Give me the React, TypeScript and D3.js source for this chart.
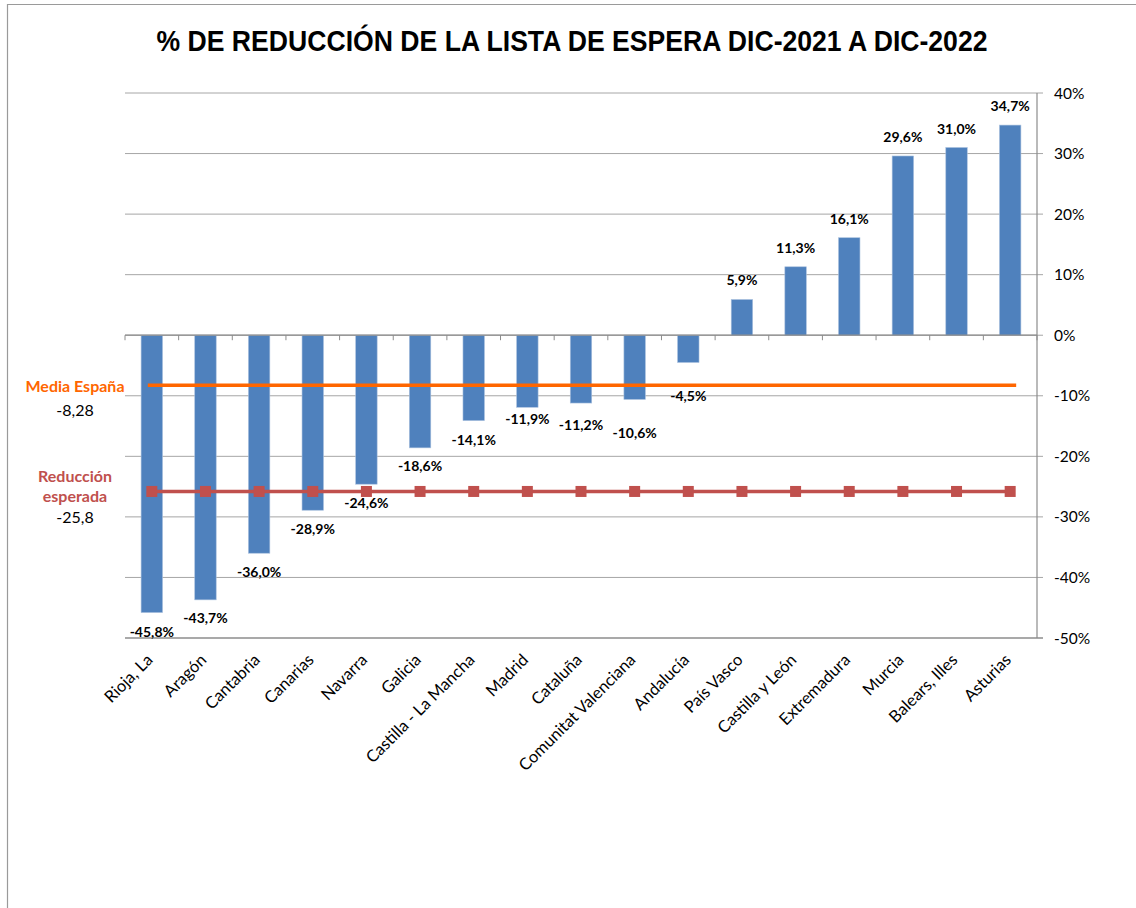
import React from "react";
import * as d3 from "d3";

const categories = [
  "Rioja, La", "Aragón", "Cantabria", "Canarias", "Navarra", "Galicia",
  "Castilla - La Mancha", "Madrid", "Cataluña", "Comunitat Valenciana",
  "Andalucía", "País Vasco", "Castilla y León", "Extremadura", "Murcia",
  "Balears, Illes", "Asturias",
];
const values = [-45.8, -43.7, -36.0, -28.9, -24.6, -18.6, -14.1, -11.9, -11.2, -10.6, -4.5, 5.9, 11.3, 16.1, 29.6, 31.0, 34.7];
const mediaEspana = -8.28;
const reduccionEsperada = -25.8;
const yTicks = [40, 30, 20, 10, 0, -10, -20, -30, -40, -50];
// manual nudges of a few data labels (px), as in the original chart
const labelNudge = [0, -1, 0, 0, 0, -1, 0, -7, 3, 15, 15, 0, 0, 0, 0, 0, 0];

const W = 1136;
const H = 908;
const left = 125;
const right = 1037;
const top = 93;
const bottom = 638;
const FONT = "Lato, 'Open Sans', sans-serif";

export default function App() {
  const x = d3.scaleBand<string>().domain(categories).range([left, right]).paddingInner(0).paddingOuter(0);
  const y = d3.scaleLinear().domain([-50, 40]).range([bottom, top]);
  const bw = x.bandwidth();
  const barW = bw * 0.4;
  const fmt = (v: number) => v.toFixed(1).replace(".", ",") + "%";
  const cx = (c: string) => (x(c) as number) + bw / 2;

  return (
    <svg width={W} height={H} style={{ position: "absolute", left: 0, top: 0, background: "#fff" }}>
      {/* outer border */}
      <line x1={7.5} y1={4} x2={7.5} y2={H} stroke="#9a9a9a" strokeWidth={1.2} />
      <line x1={7} y1={4.5} x2={W} y2={4.5} stroke="#9a9a9a" strokeWidth={1.2} />

      {/* title */}
      <text x={572} y={51} textAnchor="middle" fontFamily="'Liberation Sans Narrow', 'Arial Narrow', sans-serif" fontWeight="bold" fontSize={29} fill="#000" textLength={831} lengthAdjust="spacingAndGlyphs">
        % DE REDUCCIÓN DE LA LISTA DE ESPERA DIC-2021 A DIC-2022
      </text>

      {/* gridlines */}
      {yTicks.map((t) => (
        <line key={"g" + t} x1={left} x2={right + 6} y1={y(t)} y2={y(t)} stroke={t === -50 ? "#8c8c8c" : "#a6a6a6"} strokeWidth={t === -50 ? 1.5 : 1} />
      ))}
      {/* right axis */}
      <line x1={right} x2={right} y1={top} y2={bottom} stroke="#8c8c8c" strokeWidth={1.2} />
      {yTicks.map((t) => (
        <text key={"t" + t} x={1054} y={y(t) + 5.5} fontFamily={FONT} fontSize={15.5} fill="#000">
          {t + "%"}
        </text>
      ))}

      {/* bars */}
      {categories.map((c, i) => {
        const v = values[i];
        return (
          <rect key={c} x={cx(c) - barW / 2} width={barW} y={Math.min(y(v), y(0))} height={Math.abs(y(v) - y(0))} fill="#4F81BD" stroke="#a9c0de" strokeWidth={0.6} />
        );
      })}

      {/* zero axis with category ticks */}
      <line x1={left} x2={right} y1={y(0)} y2={y(0)} stroke="#8c8c8c" strokeWidth={1.2} />
      {categories.concat(["__end"]).map((c, i) => {
        const xx = left + i * bw;
        return <line key={"ct" + i} x1={xx} x2={xx} y1={y(0)} y2={y(0) + 5} stroke="#8c8c8c" strokeWidth={1} />;
      })}

      {/* media españa line */}
      <line x1={cx(categories[0]) - 4} x2={cx(categories[categories.length - 1]) + 6} y1={y(mediaEspana)} y2={y(mediaEspana)} stroke="#FF6600" strokeWidth={3.5} />

      {/* reduccion esperada line */}
      <line x1={cx(categories[0])} x2={cx(categories[categories.length - 1])} y1={y(reduccionEsperada)} y2={y(reduccionEsperada)} stroke="#C0504D" strokeWidth={3.5} />
      {categories.map((c) => (
        <rect key={"m" + c} x={cx(c) - 5.5} y={y(reduccionEsperada) - 5.5} width={11} height={11} fill="#C0504D" />
      ))}

      {/* data labels */}
      {categories.map((c, i) => {
        const v = values[i];
        const yy = (v < 0 ? y(v) + 24 : y(v) - 14) + labelNudge[i];
        return (
          <text key={"l" + c} x={cx(c)} y={yy} textAnchor="middle" fontFamily={FONT} fontWeight="bold" fontSize={14} fill="#000">
            {fmt(v)}
          </text>
        );
      })}

      {/* x labels */}
      {categories.map((c) => (
        <text key={"x" + c} transform={`translate(${cx(c) + 2},${661}) rotate(-45)`} textAnchor="end" fontFamily={FONT} fontSize={16.5} fill="#000">
          {c}
        </text>
      ))}

      {/* left annotations */}
      <text x={75} y={392} textAnchor="middle" fontFamily={FONT} fontWeight="bold" fontSize={16} fill="#FF6600">Media España</text>
      <text x={75} y={416} textAnchor="middle" fontFamily={FONT} fontSize={16} fill="#000">-8,28</text>
      <text x={75} y={482} textAnchor="middle" fontFamily={FONT} fontWeight="bold" fontSize={16} fill="#C0504D">Reducción</text>
      <text x={75} y={502} textAnchor="middle" fontFamily={FONT} fontWeight="bold" fontSize={16} fill="#C0504D">esperada</text>
      <text x={75} y={523} textAnchor="middle" fontFamily={FONT} fontSize={16} fill="#000">-25,8</text>
    </svg>
  );
}
